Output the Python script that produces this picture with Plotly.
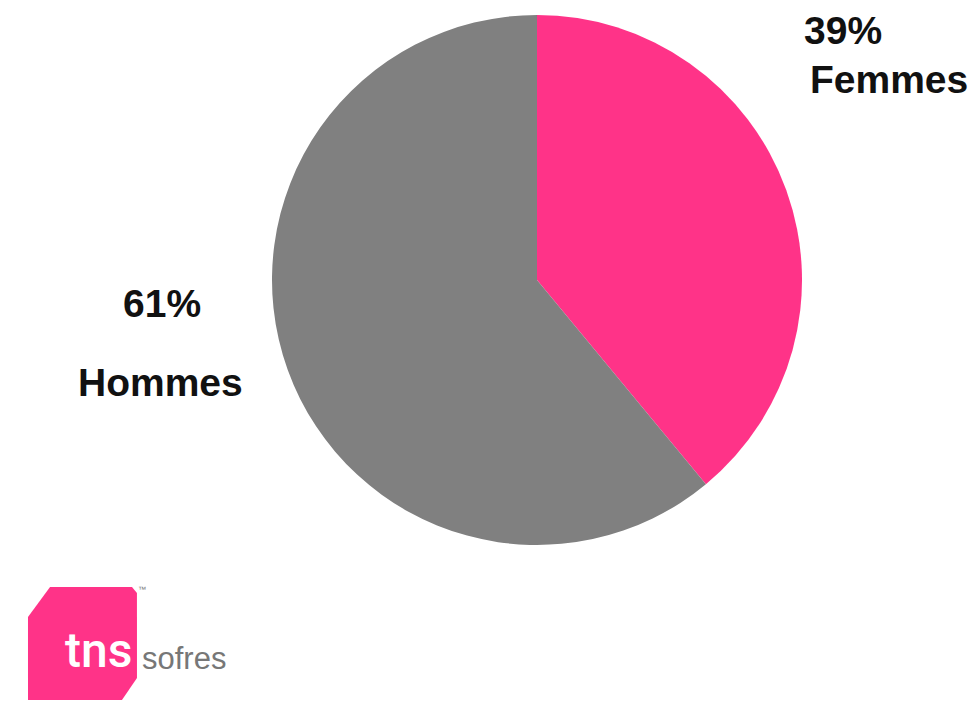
import plotly.graph_objects as go

categories = ["Femmes", "Hommes"]
values = [39, 61]
colors = ["#FF3388", "#808080"]

W, H = 980, 728
OFF = 8  # page body margin compensation

def px(x, y):
    return (x - OFF) / W, 1 - (y - OFF) / H

cx, cy, r = 537, 280, 265
x0, y1 = px(cx - r, cy - r)
x1, y0 = px(cx + r, cy + r)

fig = go.Figure()
fig.add_trace(go.Pie(
    labels=categories, values=values, sort=False, direction="clockwise", rotation=0,
    marker=dict(colors=colors, line=dict(width=0)),
    textinfo="none", hoverinfo="label+percent", showlegend=False,
    domain=dict(x=[x0, x1], y=[y0, y1]),
))

lab_font = dict(family="Liberation Sans, Arial, sans-serif", size=39, color="#111111")
label_pos = {"Femmes": [(843, 30), (889, 80)], "Hommes": [(162, 303), (160, 383)]}
annotations = []
for cat, v in zip(categories, values):
    (xa, ya), (xb, yb) = label_pos[cat]
    for (xx, yy), txt in (((xa, ya), f"<b>{v}%</b>"), ((xb, yb), f"<b>{cat}</b>")):
        ax, ay = px(xx, yy)
        annotations.append(dict(x=ax, y=ay, xref="paper", yref="paper", text=txt,
                                showarrow=False, font=lab_font, xanchor="center", yanchor="middle"))

# logo
pts = [(50, 587), (132, 587), (137, 593), (137, 678), (122, 700), (28, 700), (28, 617)]
path = "M " + " L ".join(f"{px(x, y)[0]:.4f},{px(x, y)[1]:.4f}" for x, y in pts) + " Z"
shapes = [dict(type="path", xref="paper", yref="paper", path=path,
               fillcolor="#FF3388", line=dict(width=0), layer="above")]
lx, ly = px(98, 650)
annotations.append(dict(x=lx, y=ly, xref="paper", yref="paper", text="tns", showarrow=False,
                        font=dict(family="Roboto, sans-serif", size=48, color="white", weight=500),
                        xanchor="center", yanchor="middle"))
sx, sy = px(140, 658)
annotations.append(dict(x=sx, y=sy, xref="paper", yref="paper", text="sofres", showarrow=False,
                        font=dict(family="Liberation Sans Narrow, Arial Narrow, sans-serif", size=31, color="#777777"),
                        xanchor="left", yanchor="middle"))
tx, ty = px(142, 589)
annotations.append(dict(x=tx, y=ty, xref="paper", yref="paper", text="™", showarrow=False,
                        font=dict(family="Liberation Sans, Arial", size=8, color="#777777"),
                        xanchor="center", yanchor="middle"))

fig.update_layout(width=W, height=H, margin=dict(l=0, r=0, t=0, b=0),
                  paper_bgcolor="white", plot_bgcolor="white",
                  annotations=annotations, shapes=shapes)
fig.write_html("out.html")
